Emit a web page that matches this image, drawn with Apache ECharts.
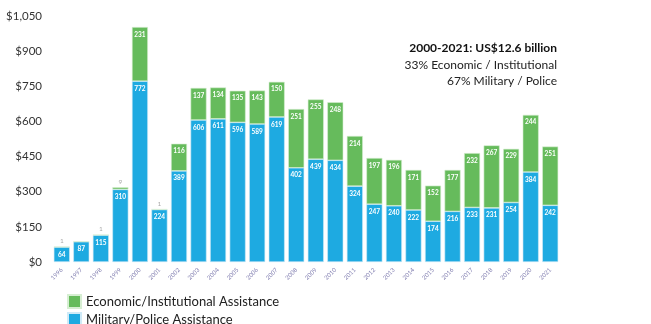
<!DOCTYPE html>
<html><head><meta charset="utf-8">
<script src="https://cdn.jsdelivr.net/npm/echarts@6/dist/echarts.min.js"></script>
<style>html,body{margin:0;padding:0;background:#fff}#c{width:651px;height:324px}</style>
</head><body><div id="c"></div>
<script>
const years = ['1996','1997','1998','1999','2000','2001','2002','2003','2004','2005','2006','2007','2008','2009','2010','2011','2012','2013','2014','2015','2016','2017','2018','2019','2020','2021'];
const military = [64,87,115,310,772,224,389,606,611,596,589,619,402,439,434,324,247,240,222,174,216,233,231,254,384,242];
const economic = [1,0,1,9,231,1,116,137,134,135,143,150,251,255,248,214,197,196,171,152,177,232,267,229,244,251];
const yTicks = [0,150,300,450,600,750,900,1050];

const FONT = 'Lato';
const chart = echarts.init(document.getElementById('c'));
const econData = economic.map(v => v < 20 ? {
  value: v,
  label: {show: v > 0, position: 'top', color: '#aaa', fontWeight: 'normal', distance: 2}
} : v);
const legendBase = {
  orient: 'horizontal', left: 67, itemWidth: 13, itemHeight: 13, padding: 0,
  icon: 'rect', textStyle: {fontSize: 13, color: '#222', fontFamily: FONT}
};
chart.setOption({
  animation: false,
  textStyle: {fontFamily: FONT},
  grid: {left: 52, right: 91, top: 16, bottom: 62},
  legend: [
    Object.assign({}, legendBase, {top: 294, data: ['Economic/Institutional Assistance']}),
    Object.assign({}, legendBase, {top: 312, data: ['Military/Police Assistance']})
  ],
  graphic: [
    {type: 'text', right: 94, top: 42, style: {text: '2000-2021: US$12.6 billion', font: 'bold 12px Lato', fill: '#111', textAlign: 'right'}},
    {type: 'text', right: 94, top: 59, style: {text: '33% Economic / Institutional', font: '12px Lato', fill: '#222', textAlign: 'right'}},
    {type: 'text', right: 94, top: 75, style: {text: '67% Military / Police', font: '12px Lato', fill: '#222', textAlign: 'right'}}
  ],
  xAxis: {
    type: 'category', data: years,
    axisLine: {show: false}, axisTick: {show: false},
    axisLabel: {rotate: 45, fontSize: 6, color: '#7f7caf', margin: 7, interval: 0}
  },
  yAxis: {
    type: 'value', min: 0, max: 1050, interval: 150,
    splitLine: {show: false}, axisLine: {show: false}, axisTick: {show: false},
    axisLabel: {fontSize: 11.5, color: '#333', margin: 10,
      formatter: v => yTicks.includes(v) ? '$' + v.toLocaleString('en-US') : ''}
  },
  series: [
    {
      name: 'Military/Police Assistance', type: 'bar', stack: 'a', data: military, barWidth: 16,
      itemStyle: {color: '#1eaae1', borderColor: '#cfeaf7', borderWidth: 0.6},
      label: {show: true, position: 'insideTop', color: '#fff', fontSize: 6.5, fontWeight: 'bold', distance: 4}
    },
    {
      name: 'Economic/Institutional Assistance', type: 'bar', stack: 'a', data: econData, barWidth: 16,
      itemStyle: {color: '#66bb5c', borderColor: '#d6eed2', borderWidth: 0.6},
      label: {show: true, position: 'insideTop', color: '#fff', fontSize: 6.5, fontWeight: 'bold', distance: 4}
    }
  ]
});
</script></body></html>
